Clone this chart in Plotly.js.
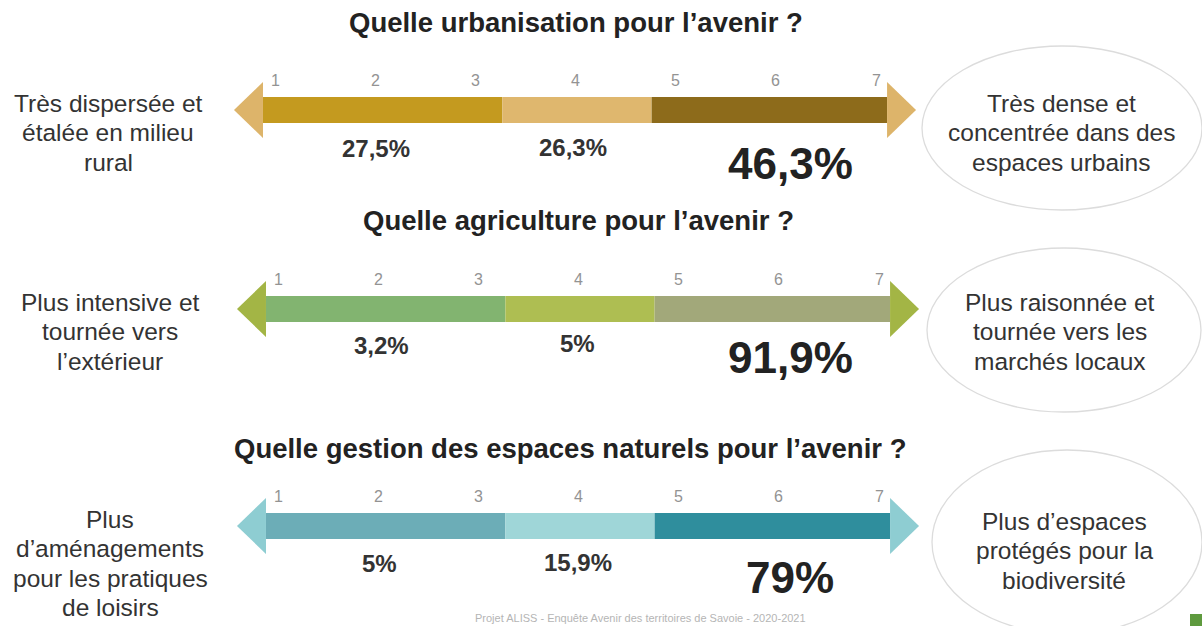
<!DOCTYPE html>
<html>
<head>
<meta charset="utf-8">
<script src="https://cdn.plot.ly/plotly-3.0.1.min.js"></script>
<style>html,body{margin:0;padding:0;background:#fff;}#chart{width:1202px;height:626px;}</style>
</head>
<body>
<div id="chart"></div>
<script>
// ---- data ----
const questions = [
  "Quelle urbanisation pour l’avenir ?",
  "Quelle agriculture pour l’avenir ?",
  "Quelle gestion des espaces naturels pour l’avenir ?"
];
const leftLabels = [
  "Très dispersée et\nétalée en milieu\nrural",
  "Plus intensive et\ntournée vers\nl’extérieur",
  "Plus\nd’aménagements\npour les pratiques\nde loisirs"
];
const rightLabels = [
  "Très dense et\nconcentrée dans des\nespaces urbains",
  "Plus raisonnée et\ntournée vers les\nmarchés locaux",
  "Plus d’espaces\nprotégés pour la\nbiodiversité"
];
const scaleTicks = [1, 2, 3, 4, 5, 6, 7];
const groups = ["1-3", "4", "5-7"];
const groupEdges = [0.88, 3.27, 4.76, 7.11];
const pctUrbanisation = [27.5, 26.3, 46.3];
const pctAgriculture = [3.2, 5, 91.9];
const pctEspaces = [5, 15.9, 79];
const source = "Projet ALISS - Enquête Avenir des territoires de Savoie - 2020-2021";

// ---- styles / layout ----
const pcts = [pctUrbanisation, pctAgriculture, pctEspaces];
const rowY = [110, 309, 526];
const rowShift = [-0.02, 0.01, 0.01];
const segColors = [
  ["#C49A1F", "#DFB76E", "#8D6B1B"],
  ["#82B470", "#AEBE52", "#A2A87A"],
  ["#6CADB7", "#9FD6D8", "#2F8E9D"]
];
const headColors = ["#DDB46A", "#A3B545", "#8ECDD2"];
const titleY = [22, 220, 448];
const titleX = [576, 578, 570];
const leftX = [108, 110, 110];
const rightX = [1061, 1060, 1064];
const ellipses = [
  {cx: 1062, cy: 128, rx: 140, ry: 82},
  {cx: 1064, cy: 330, rx: 137, ry: 82},
  {cx: 1067, cy: 542, rx: 135, ry: 92}
];
const pctPx = [[376, 573, 790], [381, 577, 790], [379, 578, 790]];
const pctDy = [[38, 37, 53], [36, 34, 48], [37, 36, 51]];
const pxPerUnit = 100.17;
const x0 = 1 - 277 / pxPerUnit;
const xRange = [x0, x0 + 1202 / pxPerUnit];
const toX = px => px / pxPerUnit + x0;
const font = "Liberation Sans, Arial, sans-serif";
const fmt = v => String(v).replace('.', ',') + '%';

const traces = [];
const annotations = [];
const shapes = [];

questions.forEach((q, i) => {
  const s = rowShift[i];
  groups.forEach((g, j) => {
    traces.push({
      type: 'bar', orientation: 'h',
      y: [rowY[i]], base: [groupEdges[j] + s], x: [groupEdges[j + 1] - groupEdges[j]],
      width: 26, marker: {color: segColors[i][j], line: {width: 0}},
      hoverinfo: 'skip', showlegend: false
    });
  });
  const L = groupEdges[0] + s, R = groupEdges[3] + s;
  const hl = 29 / pxPerUnit, hh = 28;
  traces.push({
    type: 'scatter', mode: 'lines', fill: 'toself',
    x: [L, L - hl, L, L], y: [rowY[i] - hh, rowY[i], rowY[i] + hh, rowY[i] - hh],
    fillcolor: headColors[i], line: {width: 0, color: headColors[i]},
    hoverinfo: 'skip', showlegend: false
  });
  traces.push({
    type: 'scatter', mode: 'lines', fill: 'toself',
    x: [R, R + hl, R, R], y: [rowY[i] - hh, rowY[i], rowY[i] + hh, rowY[i] - hh],
    fillcolor: headColors[i], line: {width: 0, color: headColors[i]},
    hoverinfo: 'skip', showlegend: false
  });
  scaleTicks.forEach(t => {
    annotations.push({
      x: t + s, y: rowY[i] - 30, xref: 'x', yref: 'y', text: String(t), showarrow: false,
      font: {family: font, size: 16, color: '#939393'}, xanchor: 'center', yanchor: 'middle'
    });
  });
  pcts[i].forEach((v, j) => {
    const big = j === 2;
    annotations.push({
      x: toX(pctPx[i][j]), y: rowY[i] + pctDy[i][j], xref: 'x', yref: 'y', text: '<b>' + fmt(v) + '</b>',
      showarrow: false, xanchor: 'center', yanchor: 'middle',
      font: {family: font, size: big ? 44 : 24, color: big ? '#222' : '#333'}
    });
  });
  annotations.push({
    x: toX(titleX[i]), y: titleY[i], xref: 'x', yref: 'y',
    text: '<b>' + q + '</b>', showarrow: false, xanchor: 'center', yanchor: 'middle',
    font: {family: font, size: 27.5, color: '#222'}
  });
  leftLabels[i].split('\n').forEach((line, k) => {
    annotations.push({
      x: toX(leftX[i]), y: rowY[i] - 7 + k * 29.5, xref: 'x', yref: 'y',
      text: line, showarrow: false, xanchor: 'center', yanchor: 'middle',
      font: {family: font, size: 24.5, color: '#333'}
    });
  });
  rightLabels[i].split('\n').forEach((line, k) => {
    annotations.push({
      x: toX(rightX[i]), y: rowY[i] - 7 + (i === 2 ? 2 : 0) + k * 29.5, xref: 'x', yref: 'y',
      text: line, showarrow: false, xanchor: 'center', yanchor: 'middle',
      font: {family: font, size: 24.5, color: '#333'}
    });
  });
  const e = ellipses[i];
  shapes.push({
    type: 'circle', xref: 'paper', yref: 'paper',
    x0: (e.cx - e.rx) / 1202, x1: (e.cx + e.rx) / 1202,
    y0: 1 - (e.cy + e.ry) / 626, y1: 1 - (e.cy - e.ry) / 626,
    line: {color: '#dcdcdc', width: 1.3}, fillcolor: 'rgba(0,0,0,0)', layer: 'below'
  });
});

annotations.push({
  x: toX(640), y: 618, xref: 'x', yref: 'y', text: source, showarrow: false,
  xanchor: 'center', yanchor: 'middle', font: {family: font, size: 11, color: '#b5b5b5'}
});
shapes.push({
  type: 'rect', xref: 'paper', yref: 'paper', x0: 1190 / 1202, x1: 1, y0: 0, y1: 12 / 626,
  fillcolor: '#5E9A3E', line: {width: 0}
});

const layout = {
  width: 1202, height: 626,
  margin: {l: 0, r: 0, t: 0, b: 0},
  paper_bgcolor: '#ffffff', plot_bgcolor: '#ffffff',
  barmode: 'overlay',
  xaxis: {range: xRange, visible: false, fixedrange: true},
  yaxis: {range: [626, 0], visible: false, fixedrange: true},
  showlegend: false,
  annotations: annotations,
  shapes: shapes
};

Plotly.newPlot('chart', traces, layout, {displayModeBar: false, staticPlot: true});
</script>
</body>
</html>
